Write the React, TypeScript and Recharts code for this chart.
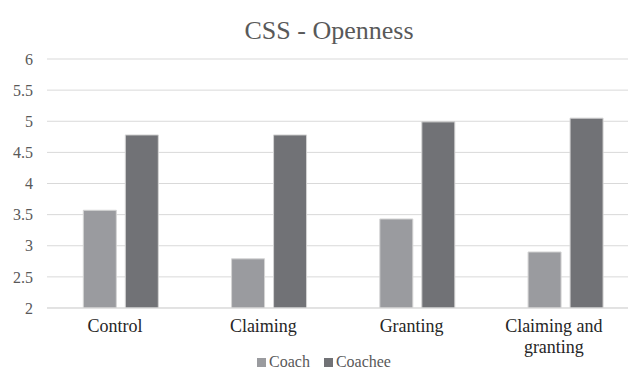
import { BarChart, Bar, XAxis, YAxis, CartesianGrid, Legend } from 'recharts';

const categories = ['Control', 'Claiming', 'Granting', 'Claiming and granting'];
const coach = [3.57, 2.79, 3.43, 2.9];
const coachee = [4.78, 4.78, 4.99, 5.05];
const yTicks = [2, 2.5, 3, 3.5, 4, 4.5, 5, 5.5, 6];

const data = categories.map((name, i) => ({ name, coach: coach[i], coachee: coachee[i] }));

const FONT = '"Liberation Serif", "Times New Roman", serif';

const CategoryTick = ({ x, y, payload, index }: any) => {
  const words: string[] = payload.value.split(' ');
  const lines = words.length > 2 ? [words.slice(0, 2).join(' '), words.slice(2).join(' ')] : [payload.value];
  const shift = index === categories.length - 1 ? -12 : -6;
  return (
    <text x={x + shift} y={y} textAnchor="middle" fill="#262626" fontSize={18} fontFamily={FONT}>
      {lines.map((l, i) => (
        <tspan key={i} x={x + shift} dy={i === 0 ? 16 : 21}>
          {l}
        </tspan>
      ))}
    </text>
  );
};

const LegendContent = () => (
  <div
    style={{
      display: 'flex',
      justifyContent: 'center',
      gap: 14,
      paddingLeft: 8,
      paddingTop: 2,
      fontFamily: FONT,
      fontSize: 16,
      color: '#595959',
      lineHeight: '20px',
    }}
  >
    {[
      ['Coach', '#9a9b9f'],
      ['Coachee', '#717276'],
    ].map(([label, color]) => (
      <span key={label} style={{ display: 'flex', alignItems: 'center' }}>
        <span style={{ width: 9, height: 9, background: color, display: 'inline-block', marginRight: 3 }} />
        {label}
      </span>
    ))}
  </div>
);

export default function App() {
  return (
    <div style={{ position: 'absolute', left: 0, top: 0, width: 628, height: 370, overflow: 'hidden', background: '#fff' }}>
      <div
        style={{
          position: 'absolute',
          left: 0,
          top: 16,
          width: 658,
          textAlign: 'center',
          fontFamily: FONT,
          fontSize: 26,
          color: '#595959',
          lineHeight: '30px',
        }}
      >
        CSS - Openness
      </div>
      <BarChart
        width={658}
        height={370}
        data={data}
        margin={{ top: 59, right: 18, left: 0, bottom: 0 }}
        barCategoryGap="24.5%"
        barGap={9}
      >
        <CartesianGrid vertical={false} stroke="#d9d9d9" />
        <XAxis
          dataKey="name"
          height={42}
          tickLine={false}
          axisLine={{ stroke: '#d9d9d9' }}
          interval={0}
          tick={<CategoryTick />}
        />
        <YAxis
          width={47}
          domain={[2, 6]}
          ticks={yTicks}
          allowDataOverflow
          axisLine={false}
          tickLine={false}
          tickMargin={8}
          tick={{ fill: '#595959', fontSize: 16, fontFamily: FONT }}
        />
        <Legend verticalAlign="bottom" height={20} content={<LegendContent />} />
        <Bar dataKey="coach" name="Coach" fill="#9a9b9f" stroke="#d4d4d4" strokeWidth={1} isAnimationActive={false} />
        <Bar dataKey="coachee" name="Coachee" fill="#717276" stroke="#d4d4d4" strokeWidth={1} isAnimationActive={false} />
      </BarChart>
    </div>
  );
}
